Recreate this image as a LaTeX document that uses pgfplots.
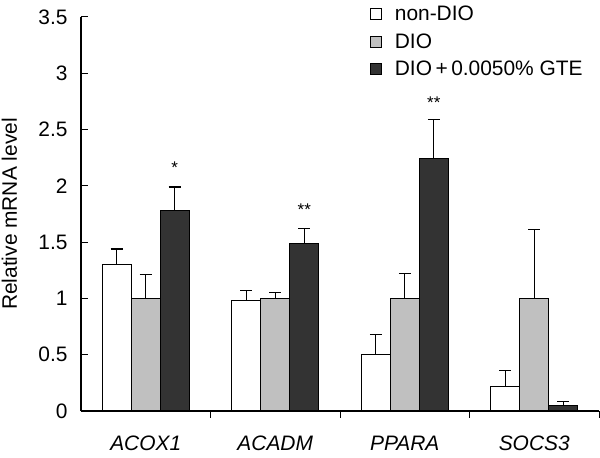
\documentclass[border=0pt]{standalone}
\usepackage{fontspec}
\setmainfont{Liberation Sans}
\usepackage{pgfplots}
\pgfplotsset{compat=1.18}
\definecolor{lgray}{HTML}{C0C0C0}
\definecolor{dgray}{HTML}{333333}
\begin{document}
\begin{tikzpicture}
\useasboundingbox (-81bp,-47bp) rectangle (519bp,411bp);
\begin{axis}[
  at={(0,0)}, anchor=south west,
  scale only axis, width=518bp, height=394bp,
  xmin=-0.5, xmax=3.5, ymin=0, ymax=3.5,
  axis x line*=bottom, axis y line*=left,
  axis line style={-, line width=1.1bp},
  ytick={0,0.5,1,1.5,2,2.5,3,3.5},
  xtick={0,1,2,3}, xticklabels={ACOX1,ACADM,PPARA,SOCS3},
  major x tick style={draw=none},
  extra x ticks={0.5,1.5,2.5,3.5}, extra x tick labels={},
  extra x tick style={major x tick style={draw=black, line width=1bp}},
  xticklabel style={font=\fontsize{21}{24}\selectfont\itshape, yshift=-15bp},
  yticklabel style={font=\fontsize{21}{24}\selectfont, xshift=-10bp},
  /pgf/number format/assume math mode=true,
  tick align=inside, major tick length=6.5bp,
  tick style={line width=1bp, black},
  ylabel={Relative mRNA level},
  every axis y label/.style={at={(axis description cs:-0.138,0.5)}, rotate=90, anchor=center, font=\fontsize{21}{24}\selectfont},
  ybar=0pt, bar width=29bp,
  error bars/y dir=plus, error bars/y explicit,
  error bars/error bar style={line width=1.3bp, black},
  error bars/error mark options={rotate=90, line width=1.3bp, mark size=6bp, black},
  legend style={at={(axis description cs:0.557,1.033)}, anchor=north west, draw=none, fill=none,
    font=\fontsize{21}{24}\selectfont, row sep=7.5bp, inner sep=0pt},
  legend cell align=left,
  legend image code/.code={\draw[#1, line width=1bp] (0bp,-5.5bp) rectangle (11bp,5.5bp); \path (22bp,0bp);},
]
\addplot[fill=white, draw=black, line width=1.3bp, bar shift=-29bp]
  table[x=x, y=y, y error=e] {
x y e
0 1.30 0.14
1 0.98 0.09
2 0.50 0.18
3 0.22 0.14
};
\addlegendentry{non-DIO}
\addplot[fill=lgray, draw=black, line width=1.3bp, bar shift=0bp]
  table[x=x, y=y, y error=e] {
x y e
0 1.00 0.21
1 1.00 0.05
2 1.00 0.22
3 1.00 0.61
};
\addlegendentry{DIO}
\addplot[fill=dgray, draw=black, line width=1.3bp, bar shift=29bp]
  table[x=x, y=y, y error=e] {
x y e
0 1.78 0.21
1 1.49 0.13
2 2.24 0.35
3 0.05 0.035
};
\addlegendentry{DIO\,+\,0.0050\% GTE}
\addplot[sharp plot, draw=none, forget plot, bar shift=0bp, error bars/y dir=none,
  nodes near coords, point meta=explicit symbolic,
  every node near coord/.style={anchor=center, font=\fontsize{17}{18}\selectfont, inner sep=0pt}]
  coordinates {(0.224,2.16) [*] (1.224,1.79) [**] (2.224,2.74) [**]};
\end{axis}
\end{tikzpicture}
\end{document}
